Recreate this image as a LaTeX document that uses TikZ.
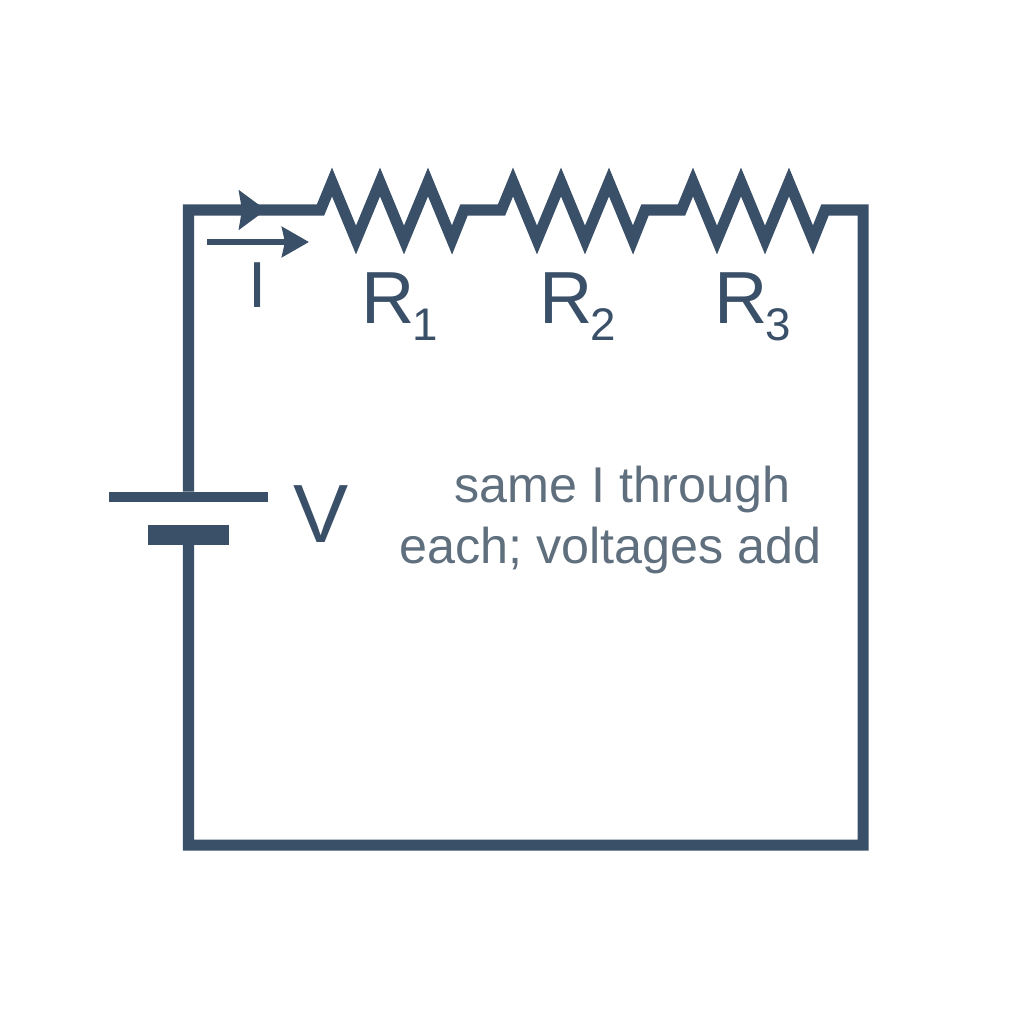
\documentclass[tikz,border=0pt]{standalone}
\usepackage{fontspec}
\setmainfont{Liberation Sans}
\usetikzlibrary{arrows.meta}
\definecolor{wirecol}{HTML}{3A5068}
\definecolor{notecol}{HTML}{5F6F7E}
\tikzset{
    wire/.style={draw=wirecol, line width=0.11cm, line join=miter},
    plate/.style={fill=wirecol, inner sep=0, outer sep=0},
    flow/.style={-{Stealth[length=0.27cm, width=0.3cm, inset=0.03cm]}, draw=wirecol, fill=wirecol},
    bigflow/.style={-{Stealth[length=0.27cm, width=0.39cm, inset=0.03cm]}, draw=wirecol, fill=wirecol},
    symb/.style={text=wirecol, anchor=base west, inner sep=0},
    note/.style={text=notecol, anchor=base west, inner sep=0, font=\fontsize{14.3pt}{16pt}\selectfont},
}
\newcommand{\zigzag}{-- ++(11.5,-28) -- ++(24,58) -- ++(24,-58) -- ++(24,58) -- ++(24,-58) -- ++(24,58) -- ++(12,-30)}
\newcommand{\reslabel}[1]{\fontsize{21pt}{24pt}\selectfont R\hspace{-0.03cm}\raisebox{-0.17cm}{\fontsize{13pt}{15pt}\selectfont #1}}

\begin{document}
\begin{tikzpicture}[x=0.01cm, y=-0.01cm]
    \useasboundingbox (0,0) rectangle (1024,1024);

    % battery
    \node[plate, minimum width=1.59cm, minimum height=0.1cm] (plus) at (188.5,496.5) {};
    \node[plate, minimum width=0.81cm, minimum height=0.195cm] (minus) at (188.5,535) {};

    % corners and resistor ends
    \coordinate (topleft) at (188.5,210);
    \coordinate (topright) at (863,210);
    \coordinate (botright) at (863,845);
    \coordinate (botleft) at (188.5,845);
    \foreach \n/\x in {1/332,2/513,3/693}
    {
        \coordinate (r\n in) at (\x-11.5,210);
    }

    \draw[wire] (plus.north) -- (topleft) -- (r1in) \zigzag -- (r2in) \zigzag -- (r3in) \zigzag
        -- (topright) -- (botright) -- (botleft) -- (minus.south);

    % current arrows
    \coordinate (wirea) at (240,210);
    \coordinate (wireb) at (266,210);
    \coordinate (flowa) at (207,242);
    \coordinate (flowb) at (309,242);
    \draw[bigflow, line width=0.1cm] (wirea) -- (wireb);
    \draw[flow, line width=0.06cm] (flowa) -- (flowb);

    % labels
    \node[symb, font=\fontsize{18.5pt}{20pt}\selectfont] (curlabel) at (248,307) {I};
    \node[symb] (r1label) at (361,323) {\reslabel{1}};
    \node[symb] (r2label) at (539,323) {\reslabel{2}};
    \node[symb] (r3label) at (714,323) {\reslabel{3}};
    \node[symb, font=\fontsize{23.5pt}{26pt}\selectfont] (vlabel) at (293,542) {V};
    \node[note] (notea) at (454,502) {same I through};
    \node[note] (noteb) at (399,563) {each; voltages add};
\end{tikzpicture}
\end{document}
